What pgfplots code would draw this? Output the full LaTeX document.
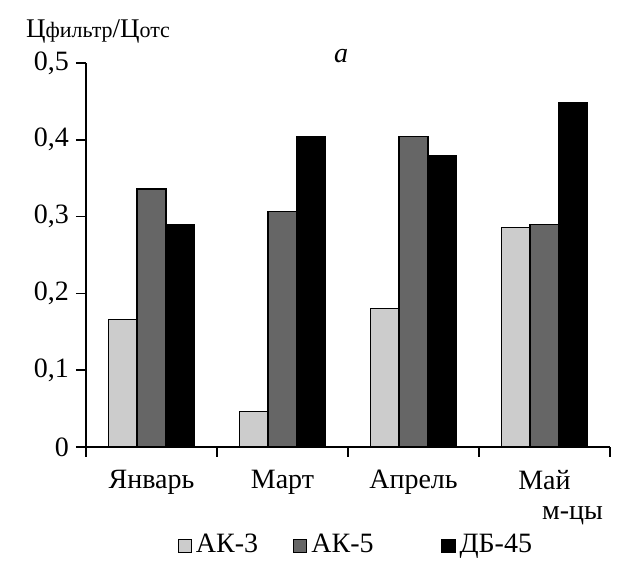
\documentclass[border=0pt]{standalone}
\usepackage{pgfplots}
\pgfplotsset{compat=1.18}
\usepackage{fontspec}
\setmainfont{Liberation Serif}
\definecolor{lg}{HTML}{CCCCCC}
\definecolor{dg}{HTML}{666666}
\begin{document}
\begin{tikzpicture}
\begin{axis}[
  scale only axis,
  width=262pt, height=192pt,
  xmin=0, xmax=4, ymin=0, ymax=0.5,
  axis lines*=left,
  axis line style={line width=1pt},
  ybar=0pt, bar width=0.22,
  xtick={0.5,1.5,2.5,3.5},
  xticklabels={Январь,Март,Апрель,Май},
  major x tick style={draw=none},
  minor xtick={0,1,2,3,4},
  minor tick length=5pt,
  ytick={0,0.1,0.2,0.3,0.4,0.5},
  yticklabels={0,{0,1},{0,2},{0,3},{0,4},{0,5}},
  major tick length=5pt,
  tick align=outside,
  tick style={black, line width=0.8pt},
  ticklabel style={font=\fontsize{14}{16}\selectfont},
  xticklabel style={yshift=-3pt},
  /pgf/number format/assume math mode=true,
  clip=false,
  legend style={at={(0.517,-0.205)}, anchor=north, draw=none, legend columns=3,
    font=\fontsize{14}{16}\selectfont,
    /tikz/every even column/.append style={column sep=15.5pt}},
  legend image code/.code={\draw[#1, line width=0.6pt] (0pt,-4pt) rectangle (6.5pt,2.5pt);},
]
\addplot[fill=lg, draw=black, line width=0.6pt] coordinates {(0.5,0.166) (1.5,0.046) (2.5,0.180) (3.5,0.286)};
\addplot[fill=dg, draw=black, line width=0.6pt] coordinates {(0.5,0.336) (1.5,0.307) (2.5,0.404) (3.5,0.290)};
\addplot[fill=black, draw=black, line width=0.6pt] coordinates {(0.5,0.290) (1.5,0.404) (2.5,0.380) (3.5,0.448)};
\legend{АК-3,\makebox[47.5pt][l]{АК-5},ДБ-45}
\node[anchor=base west, font=\fontsize{13.5}{15}\selectfont] at ([xshift=-33.5pt,yshift=12.5pt]rel axis cs:0,1) {Ц{\fontsize{11}{12}\selectfont фильтр}/Ц{\fontsize{11}{12}\selectfont отс}};
\node[anchor=base, font=\fontsize{14}{15}\selectfont\itshape] at ([yshift=0pt]rel axis cs:0.487,1) {a};
\node[anchor=base east, font=\fontsize{14}{16}\selectfont] at ([yshift=-36.5pt]rel axis cs:1,0) {м-цы};
\coordinate (ll) at ([xshift=-43pt,yshift=-57.5pt]rel axis cs:0,0);
\coordinate (ur) at ([xshift=4pt,yshift=31.5pt]rel axis cs:1,1);
\end{axis}
\pgfresetboundingbox
\path[use as bounding box] (ll) rectangle (ur);
\end{tikzpicture}
\end{document}
